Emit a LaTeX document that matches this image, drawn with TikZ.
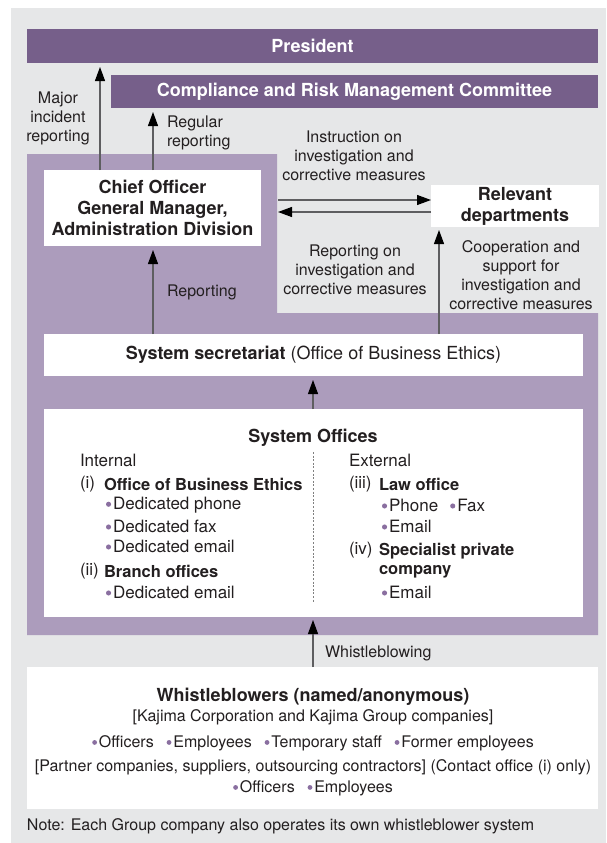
\documentclass[tikz,border=0pt]{standalone}
\usepackage{fontspec}
\setmainfont{TeX Gyre Heros}
\usetikzlibrary{arrows.meta}
\definecolor{bg}{HTML}{E6E7E8}
\definecolor{dp}{HTML}{765F8A}
\definecolor{lp}{HTML}{AC9CBC}
\definecolor{tx}{HTML}{231F20}
\definecolor{bulc}{HTML}{8A6FA0}
\definecolor{arrc}{HTML}{5E5E60}
\newcommand\bul{\tikz[baseline]\fill[bulc](0pt,0.3em) circle (0.15em);\hspace{0.12em}}
\begin{document}
\begin{tikzpicture}[x=1pt,y=-1pt,
  every node/.style={text=tx, inner sep=0pt, outer sep=0pt},
  fsm/.style={font=\fontsize{16}{19}\selectfont},
  fmd/.style={font=\fontsize{17}{19}\selectfont},
  fbig/.style={font=\fontsize{18}{21}\selectfont\bfseries},
  fsub/.style={font=\fontsize{16.5}{19}\selectfont\bfseries},
  barbox/.style={fill=dp, text=white, anchor=north west},
  wbox/.style={fill=white, anchor=north west},
  arr/.style={-{Triangle[length=14pt,width=10pt,color=black]}, draw=arrc, line width=1.1pt, shorten >=4pt},
  lbl/.style={fsm, align=center},
  item/.style={fmd, anchor=west}
]
\useasboundingbox (0,0) rectangle (606,843);
% background
\fill[bg] (11,8) rectangle (606,843);
% purple region
\fill[lp] (27,154) -- (277,154) -- (277,313) -- (598,313) -- (598,635) -- (27,635) -- cycle;

% top bars
\node[barbox, fbig, minimum width=571pt, minimum height=34pt] (pres) at (27,29) {President};
\node[barbox, fbig, minimum width=487pt, minimum height=33pt] (crmc) at (111,75) {Compliance and Risk Management Committee};

% boxes
\node[wbox, fbig, align=center, minimum width=217pt, minimum height=76pt] (chief) at (44,170)
  {Chief Officer\\General Manager,\\Administration Division};
\node[wbox, fbig, align=center, minimum width=168pt, minimum height=42pt] (rel) at (431,185)
  {Relevant\\departments};
\node[wbox, font=\fontsize{18}{21}\selectfont, minimum width=539pt, minimum height=42pt] (sec) at (44,334)
  {\textbf{System secretariat} (Office of Business Ethics)};
\node[wbox, minimum width=539pt, minimum height=208pt] (off) at (44,409) {};
\node[wbox, minimum width=571pt, minimum height=142pt] (wb) at (27,667) {};

% labels
\node[lbl] (l1) at (58,118) {Major\\incident\\reporting};
\node[lbl, align=left, anchor=west] (l2) at (167,133) {Regular\\reporting};
\node[lbl] (l3) at (354,156) {Instruction on\\investigation and\\corrective measures};
\node[lbl] (l4) at (355,270) {Reporting on\\investigation and\\corrective measures};
\node[lbl] (l5) at (521,275) {Cooperation and\\support for\\investigation and\\corrective measures};
\node[fsm, anchor=west] (l6) at (167,292) {Reporting};
\node[fsm, anchor=west] (l7) at (325,653) {Whistleblowing};

% arrows
\coordinate (xa) at (100,0);
\coordinate (xb) at (153,0);
\coordinate (xc) at (313,0);
\coordinate (xd) at (439,0);
\coordinate (pe) at (278,0);
\coordinate (ya) at (0,200);
\coordinate (yb) at (0,212);
\draw[arr] (chief.north -| xa) -- (pres.south -| xa);
\draw[arr] (chief.north -| xb) -- (crmc.south -| xb);
\draw[arr] (sec.north -| xb) -- (chief.south -| xb);
\draw[arr, shorten >=3pt] (sec.north -| xd) -- (rel.south -| xd);
\draw[arr] (off.north -| xc) -- (sec.south -| xc);
\draw[arr, shorten >=3pt] (wb.north -| xc) -- (off.south -| xc);
\draw[arr, shorten >=0pt] (pe |- ya) -- (rel.west |- ya);
\draw[arr, shorten >=0pt] (rel.west |- yb) -- (pe |- yb);

% system offices contents
\node[fbig] (soT) at (313,438) {System Offices};
\draw[dash pattern=on 2pt off 1.6pt, draw=gray, line width=0.6pt] (313,452) -- (313,602);
\node[item] (inT) at (80,460) {Internal};
\node[item] (i1) at (80,484) {(i)};
\node[fsub, anchor=west] (i1t) at (104,484) {Office of Business Ethics};
\node[item] (i1a) at (106,505) {\bul Dedicated phone};
\node[item] (i1b) at (106,526) {\bul Dedicated fax};
\node[item] (i1c) at (106,546) {\bul Dedicated email};
\node[item] (i2) at (80,571) {(ii)};
\node[fsub, anchor=west] (i2t) at (104,571) {Branch offices};
\node[item] (i2a) at (106,592) {\bul Dedicated email};
\node[item] (exT) at (349,460) {External};
\node[item] (e3) at (349,484) {(iii)};
\node[fsub, anchor=west] (e3t) at (379,484) {Law office};
\node[item] (e3a) at (382,505) {\bul Phone\hspace{0.7em}\bul Fax};
\node[item] (e3b) at (382,526) {\bul Email};
\node[item] (e4) at (349,550) {(iv)};
\node[fsub, anchor=west, align=left] (e4t) at (379,560.5) {Specialist private\\company};
\node[item] (e4a) at (382,592) {\bul Email};

% whistleblowers contents
\node[fbig] (wbT) at (313,697) {Whistleblowers (named/anonymous)};
\node[fsm] (wb1) at (313,717) {[Kajima Corporation and Kajima Group companies]};
\node[fsm] (wb2) at (313,743) {\bul Officers\hspace{0.8em}\bul Employees\hspace{0.8em}\bul Temporary staff\hspace{0.8em}\bul Former employees};
\node[fsm] (wb3) at (313,767) {[Partner companies, suppliers, outsourcing contractors] (Contact office (i) only)};
\node[fsm] (wb4) at (313,788) {\bul Officers\hspace{0.8em}\bul Employees};
\node[fsm, anchor=west] (note) at (27,826) {Note: Each Group company also operates its own whistleblower system};
\end{tikzpicture}
\end{document}
